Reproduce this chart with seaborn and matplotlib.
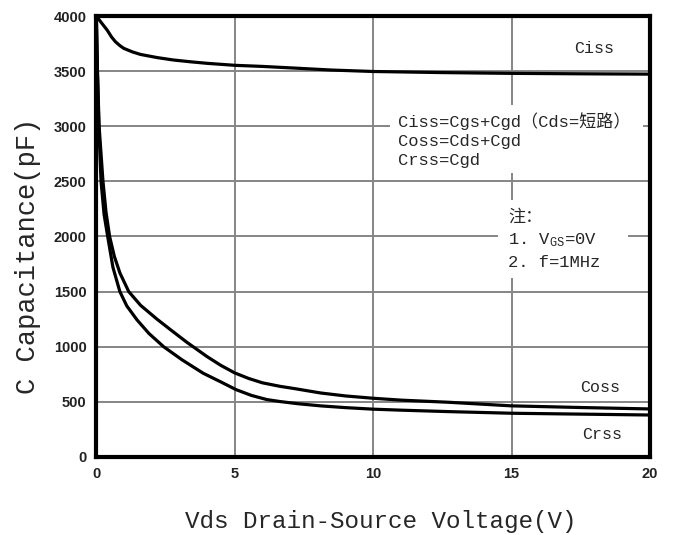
import numpy as np
import pandas as pd
import matplotlib
matplotlib.use("Agg")
import matplotlib.pyplot as plt
from matplotlib.patches import Rectangle
import seaborn as sns

# Data
ciss_v = [0, 0.2, 0.39, 0.55, 0.69, 0.85, 0.99, 1.3, 1.59, 2.2, 2.79, 3.4, 4, 5, 6, 7, 8.5, 10, 12.5, 15, 17.5, 20]
ciss_c = [4000, 3934, 3873, 3810, 3767, 3732, 3707, 3675, 3652, 3623, 3601, 3585, 3571, 3553, 3543, 3530, 3510, 3497, 3487, 3480, 3476, 3473]

coss_v = [0, 0.04, 0.1, 0.17, 0.24, 0.35, 0.48, 0.65, 0.85, 1.17, 1.6, 2.19, 2.7, 3.27, 4.0, 4.5, 5.0,
          5.5, 6.0, 6.64, 7.2, 8.1, 9, 10, 11, 12.7, 15, 17.5, 20]
coss_c = [4000, 3500, 3000, 2750, 2500, 2220, 2000, 1820, 1670, 1500, 1375, 1250, 1150, 1040, 910, 830, 762,
          712, 672, 640, 618, 580, 553, 532, 515, 496, 463, 448, 435]

crss_v = [0, 0.04, 0.09, 0.17, 0.28, 0.41, 0.6, 0.85, 1.1, 1.47, 1.9, 2.43, 3.1, 3.86, 4.5, 5.05,
          5.6, 6.16, 6.64, 7.3, 8.1, 9, 10, 11, 12.7, 15, 17.5, 20]
crss_c = [4000, 3500, 3000, 2500, 2200, 2000, 1720, 1500, 1370, 1243, 1120, 1000, 880, 759, 680, 610,
          558, 520, 502, 482, 463, 447, 433, 424, 411, 396, 388, 380]

x_ticks = [0, 5, 10, 15, 20]
y_ticks = [0, 500, 1000, 1500, 2000, 2500, 3000, 3500, 4000]

series_labels = ["Ciss", "Coss", "Crss"]
formula_lines = ["Ciss=Cgs+Cgd（Cds=短路）", "Coss=Cds+Cgd", "Crss=Cgd"]
note_lines = ["注：", r"1. V$_{\mathrm{GS}}$=0V", "2. f=1MHz"]

sns.set_theme(style="white")
plt.rcParams["font.family"] = ["Liberation Mono", "Noto Sans CJK SC", "DejaVu Sans"]
plt.rcParams["mathtext.fontset"] = "custom"
plt.rcParams["mathtext.rm"] = "Liberation Mono"
plt.rcParams["mathtext.it"] = "Liberation Mono"
plt.rcParams["mathtext.bf"] = "Liberation Mono:bold"

FAM = ["Liberation Mono", "Noto Sans CJK SC"]

fig = plt.figure(figsize=(6.76, 5.35), dpi=100)
ax = fig.add_axes([0.1425, 0.146, 0.819, 0.824])

df = pd.concat([
    pd.DataFrame({"V": ciss_v, "C": ciss_c, "s": "Ciss"}),
    pd.DataFrame({"V": coss_v, "C": coss_c, "s": "Coss"}),
    pd.DataFrame({"V": crss_v, "C": crss_c, "s": "Crss"}),
])
for name in series_labels:
    sub = df[df["s"] == name]
    sns.lineplot(data=sub, x="V", y="C", ax=ax, color="black", lw=2.3,
                 estimator=None, sort=False, legend=False, zorder=3)
for ln in ax.lines:
    ln.set_solid_joinstyle("round")
    ln.set_solid_capstyle("round")

ax.set_xlim(0, 20)
ax.set_ylim(0, 4000)
ax.set_xticks(x_ticks)
ax.set_yticks(y_ticks)
ax.grid(True, color="#858585", lw=1.4, zorder=0)
ax.set_axisbelow(True)
for sp in ax.spines.values():
    sp.set_visible(True)
    sp.set_color("black")
    sp.set_linewidth(3.0)
    sp.set_zorder(5)
ax.tick_params(axis="both", length=0, pad=7)
for lab in ax.get_xticklabels() + ax.get_yticklabels():
    lab.set_fontfamily("Liberation Sans")
    lab.set_fontweight("bold")
    lab.set_fontsize(10.5)
    lab.set_color("#222222")

ax.set_xlabel("Vds Drain-Source Voltage(V)", fontsize=17.5, family=FAM)
ax.set_ylabel("C Capacitance(pF)", fontsize=19.5, family=FAM)
ax.xaxis.label.set_va("center")
ax.yaxis.label.set_va("center")
ax.xaxis.set_label_coords(0.514, -0.147)
ax.yaxis.set_label_coords(-0.123, 0.456)

# Series labels
ax.text(18.0, 3710, "Ciss", fontsize=12, ha="center", va="center", family=FAM, zorder=4)
ax.text(18.2, 626, "Coss", fontsize=12, ha="center", va="center", family=FAM, zorder=4)
ax.text(18.27, 200, "Crss", fontsize=12, ha="center", va="center", family=FAM, zorder=4)

# White boxes behind the annotation blocks (they interrupt the grid)
ax.add_patch(Rectangle((10.61, 2576), 9.14, 617, facecolor="white", edgecolor="none", zorder=1))
ax.add_patch(Rectangle((14.51, 1624), 4.70, 707, facecolor="white", edgecolor="none", zorder=1))

# Formula block
ax.text(10.9, 2875, "\n".join(formula_lines), fontsize=12.3, ha="left", va="center",
        linespacing=1.33, family=FAM, zorder=4)

# Note block
ax.text(14.87, 1975, "\n".join(note_lines), fontsize=12.3, ha="left", va="center",
        linespacing=1.52, family=FAM, zorder=4)

fig.savefig("out.png", dpi=100)
